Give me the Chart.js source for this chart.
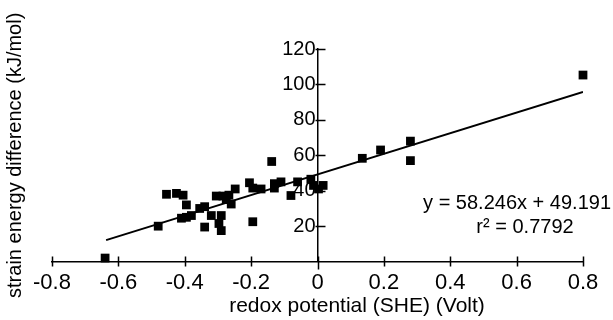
<!DOCTYPE html>
<html>
<head>
<meta charset="utf-8">
<script src="https://cdn.jsdelivr.net/npm/chart.js@4/dist/chart.umd.min.js"></script>
<style>
  body { margin: 0; background: #fff; }
  #wrap { width: 613px; height: 320px; }
</style>
</head>
<body>
<div id="wrap"><canvas id="chart" width="613" height="320"></canvas></div>
<script>
// measured points: redox potential (V) vs strain energy difference (kJ/mol)
const redox = [-0.64, -0.48, -0.455, -0.425, -0.405, -0.395, -0.41, -0.395, -0.38, -0.355,
  -0.34, -0.34, -0.32, -0.305, -0.285, -0.29, -0.297, -0.29, -0.275, -0.26,
  -0.248, -0.267, -0.205, -0.195, -0.195, -0.17, -0.138, -0.13, -0.13, -0.11,
  -0.08, -0.06, -0.02, -0.012, 0.003, 0.017, 0.135, 0.19, 0.28, 0.28, 0.8];
const strain = [2, 20, 38, 38.5, 37.5, 32, 24.5, 25, 26, 30,
  31, 19.5, 26, 37, 37, 26, 21.5, 17.5, 35, 32.5,
  41, 37.5, 44.5, 41.5, 22.5, 41, 56.5, 44, 41.5, 45,
  37.3, 45, 46.5, 43, 41, 43, 58.3, 63, 68, 57, 105.3];

// fitted line end points, y = 58.246x + 49.191
const fitX = [-0.637, 0.8];
const fitY = [12.1, 95.8];

const xTicks = [-0.8, -0.6, -0.4, -0.2, 0, 0.2, 0.4, 0.6, 0.8];
const yTicks = [20, 40, 60, 80, 100, 120];

const xTitle = 'redox potential (SHE) (Volt)';
const yTitle = 'strain energy difference (kJ/mol)';
const eqText = 'y = 58.246x + 49.191';
const r2Text = 'r² = 0.7792';

const FONT = "'Liberation Sans', Arial, sans-serif";

// cross tick marks + annotation text
const extras = {
  id: 'extras',
  afterDraw(chart) {
    const ctx = chart.ctx;
    const xs = chart.scales.x, ys = chart.scales.y;
    const y0 = ys.getPixelForValue(0);
    const x0 = xs.getPixelForValue(0);
    ctx.save();
    ctx.strokeStyle = '#000';
    ctx.lineWidth = 1.5;
    ctx.beginPath();
    xTicks.forEach(v => {
      const px = Math.round(xs.getPixelForValue(v)) + 0.5;
      ctx.moveTo(px, y0 - 5);
      ctx.lineTo(px, y0 + (v === 0 ? 8 : 5));
    });
    yTicks.forEach(v => {
      const py = Math.round(ys.getPixelForValue(v)) + 0.5;
      ctx.moveTo(x0 - 2, py);
      ctx.lineTo(x0 + 8, py);
    });
    ctx.stroke();

    ctx.fillStyle = '#000';
    ctx.textBaseline = 'middle';
    ctx.font = '21px ' + FONT;
    ctx.textAlign = 'center';
    ctx.fillText(xTitle, 357, 306);

    ctx.font = '20px ' + FONT;
    ctx.textAlign = 'right';
    ctx.fillText(eqText, 611, 203);
    ctx.textAlign = 'center';
    ctx.fillText(r2Text, 525, 227);
    ctx.restore();
  }
};

new Chart(document.getElementById('chart'), {
  type: 'scatter',
  data: {
    datasets: [
      {
        label: 'data',
        data: redox.map((x, i) => ({x: x, y: strain[i]})),
        yAxisID: 'y',
        pointStyle: 'rect',
        pointRadius: 6.2,
        pointHoverRadius: 6.2,
        backgroundColor: '#000',
        borderWidth: 0,
        clip: false
      },
      {
        label: 'fit',
        data: fitX.map((x, i) => ({x: x, y: fitY[i]})),
        yAxisID: 'y',
        showLine: true,
        borderColor: '#000',
        borderWidth: 2,
        pointRadius: 0,
        fill: false
      }
    ]
  },
  options: {
    responsive: false,
    animation: false,
    devicePixelRatio: 1,
    layout: { padding: { left: 0, right: 30, top: 49, bottom: 16 } },
    plugins: { legend: { display: false }, tooltip: { enabled: false } },
    scales: {
      y: {
        type: 'linear',
        position: 'center',
        min: 0,
        max: 120,
        afterBuildTicks: s => { s.ticks = yTicks.map(v => ({value: v})); },
        afterFit: s => { s.width = 0; },
        ticks: { color: '#000', font: { family: FONT, size: 20 }, padding: 2 },
        grid: { display: false, drawTicks: false, tickLength: 0 },
        border: { display: true, color: '#000', width: 1.5 }
      },
      yTitle: {
        type: 'linear',
        position: 'left',
        ticks: { display: false },
        grid: { display: false, drawTicks: false, tickLength: 0 },
        border: { display: false },
        title: {
          display: true,
          text: yTitle,
          color: '#000',
          font: { family: FONT, size: 20 },
          padding: { top: 3, bottom: 25 }
        }
      },
      x: {
        type: 'linear',
        position: 'bottom',
        min: -0.8,
        max: 0.8,
        afterBuildTicks: s => { s.ticks = xTicks.map(v => ({value: v})); },
        ticks: {
          color: '#000',
          font: { family: FONT, size: 22 },
          padding: 8,
          maxRotation: 0,
          callback: v => String(Math.round(v * 10) / 10)
        },
        grid: { display: false, drawTicks: false, tickLength: 0 },
        border: { display: true, color: '#000', width: 1.5 }
      }
    }
  },
  plugins: [extras]
});
</script>
</body>
</html>
